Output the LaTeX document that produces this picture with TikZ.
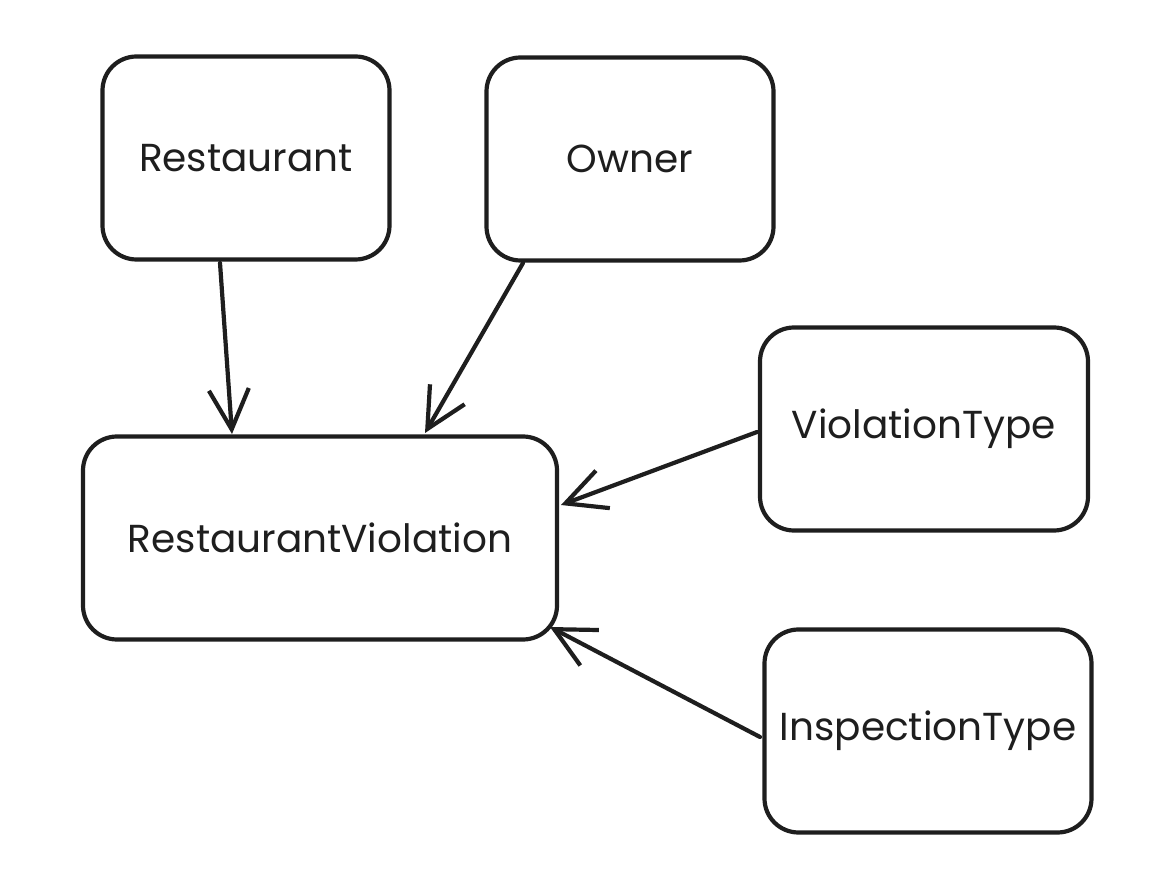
\documentclass[tikz,border=0pt]{standalone}
\usepackage{fontspec}
\setmainfont{Poppins}
\usetikzlibrary{arrows.meta}
\definecolor{ink}{HTML}{1E1E1E}
\begin{document}
\begin{tikzpicture}[x=1pt,y=-1pt,
  entity/.style={draw=ink,line width=4.2pt,rounded corners=34pt,minimum height=203pt,align=center,font=\fontsize{39}{45}\selectfont,text=ink,inner sep=0pt},
  rel/.style={draw=ink,line width=4.2pt,line cap=round,-{Straight Barb[length=40pt,width=40pt,line width=4.2pt]}}]
\useasboundingbox[fill=white] (0,0) rectangle (1152,874);
\node[entity,minimum width=287pt] (rest) at (246,158) {Restaurant};
\node[entity,minimum width=287pt] (own) at (630,159) {Owner};
\node[entity,minimum width=328pt] (vt) at (924,429) {ViolationType};
\node[entity,minimum width=474pt] (rv) at (320,538) {RestaurantViolation};
\node[entity,minimum width=327pt] (it) at (928,731) {InspectionType};
\coordinate (a1) at (220,263); \coordinate (b1) at (232,434);
\coordinate (a2) at (523,263); \coordinate (b2) at (425,433);
\coordinate (a3) at (757,432); \coordinate (b3) at (561,505);
\coordinate (a4) at (760,737); \coordinate (b4) at (550,627);
\draw[rel] (a1) -- (b1);
\draw[rel] (a2) -- (b2);
\draw[rel] (a3) -- (b3);
\draw[rel] (a4) -- (b4);
\end{tikzpicture}
\end{document}
